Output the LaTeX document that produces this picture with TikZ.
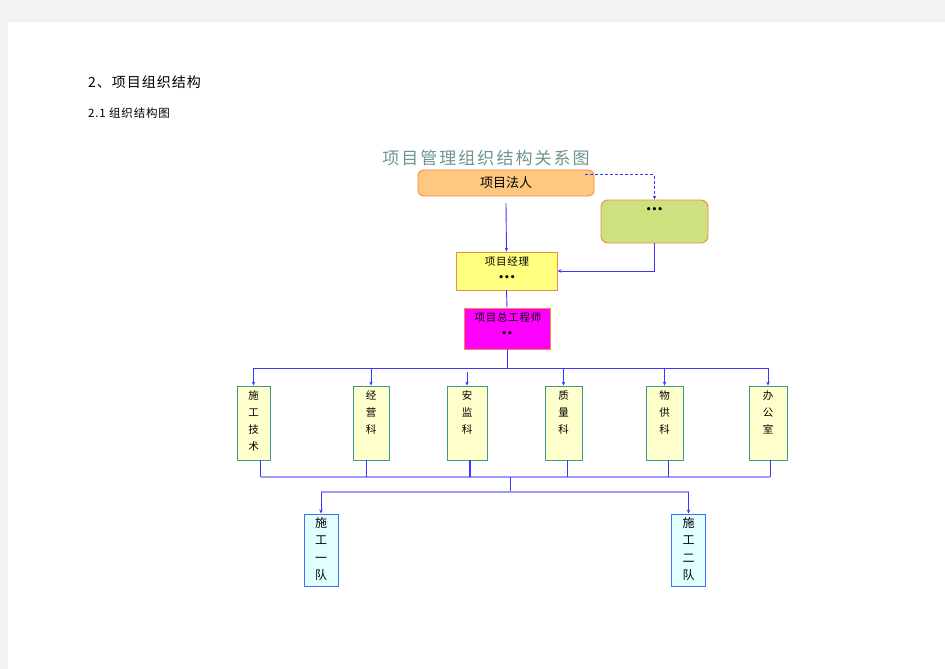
\documentclass[tikz,border=0pt]{standalone}
\usepackage{fontspec}
\setmainfont{Noto Sans CJK SC}
\newfontfamily\cjkls{Noto Sans CJK SC}[LetterSpace=12]
\newfontfamily\cjkmid{Noto Sans CJK SC}[LetterSpace=7]
\newfontfamily\dvdots{DejaVu Sans}
\usetikzlibrary{arrows.meta}
\definecolor{pagegray}{HTML}{F2F2F2}
\definecolor{lineblue}{HTML}{3838FF}
\definecolor{lightblue}{HTML}{9C9CFF}
\definecolor{boxorange}{HTML}{F58A3C}
\definecolor{frfill}{HTML}{FFC880}
\definecolor{greenfill}{HTML}{CDE27E}
\definecolor{yellowfill}{HTML}{FFFF80}
\definecolor{magentafill}{HTML}{FF00FF}
\definecolor{deptfill}{HTML}{FFFFCC}
\definecolor{deptdraw}{HTML}{3A9A8E}
\definecolor{teamfill}{HTML}{E2FFFF}
\definecolor{teamdraw}{HTML}{3F6FFF}
\definecolor{titlecol}{HTML}{6E9494}
\tikzset{
  topbox/.style={draw=boxorange, line width=0.9pt, inner sep=0pt},
  deptbox/.style={draw=deptdraw, fill=deptfill, line width=0.8pt, inner sep=0pt, minimum height=74pt},
  teambox/.style={draw=teamdraw, fill=teamfill, line width=0.9pt, inner sep=0pt, minimum width=34pt, minimum height=72pt},
  conn/.style={draw=lineblue, line width=0.9pt},
  arr/.style={conn, -{Stealth[length=4pt,width=3.5pt]}},
  lbus/.style={draw=lightblue, line width=1.6pt},
  dots/.style={inner sep=0pt, font=\fontsize{9}{10}\selectfont\dvdots\bfseries},
  deptlabel/.style={anchor=north, inner sep=4.5pt, align=center, font=\fontsize{10.5}{17}\selectfont},
  teamlabel/.style={anchor=north, inner sep=3.5pt, align=center, font=\fontsize{12}{17.5}\selectfont},
}
\begin{document}
\begin{tikzpicture}[x=1pt,y=-1pt]
% page
\fill[pagegray] (0,0) rectangle (945,669);
\fill[white] (8,22) rectangle (945,669);
\useasboundingbox (0,0) rectangle (945,669);

% headings
\node[anchor=west, inner sep=0pt, font=\fontsize{14}{16}\selectfont\cjkmid] (h1) at (88,82) {2、项目组织结构};
\node[anchor=west, inner sep=0pt, font=\fontsize{11.5}{14}\selectfont\cjkmid] (h2) at (88,113) {2.1 组织结构图};

% title
\node[inner sep=0pt, text=titlecol, font=\fontsize{17}{20}\selectfont\cjkls] (title) at (486,158) {项目管理组织结构关系图};

% top boxes
\node[topbox, fill=frfill, rounded corners=6pt, minimum width=176pt, minimum height=26pt, font=\fontsize{13}{15}\selectfont] (fr) at (506,183) {项目法人};
\node[topbox, fill=greenfill, rounded corners=7pt, minimum width=107pt, minimum height=43pt] (gr) at (654.5,221.5) {};
\node[dots] (grdots) at (654.5,210.5) {•••};

\node[topbox, fill=yellowfill, minimum width=101pt, minimum height=38pt] (pm) at (506.5,271) {};
\node[inner sep=0pt, font=\fontsize{10.5}{12}\selectfont\cjkmid] (pmt) at (507,262) {项目经理};
\node[dots] (pmd) at (507,278) {•••};

\node[topbox, fill=magentafill, minimum width=86pt, minimum height=41pt] (ce) at (507,328.5) {};
\node[inner sep=0pt, font=\fontsize{10.5}{12}\selectfont\cjkmid] (cet) at (508,318) {项目总工程师};
\node[dots] (ced) at (507,334) {••};

% departments
\node[deptbox, minimum width=33pt, label={[deptlabel]north:施\\工\\技\\术}] (d1) at (253.5,423) {};
\node[deptbox, minimum width=36pt, label={[deptlabel]north:经\\营\\科}] (d2) at (371,423) {};
\node[deptbox, minimum width=40pt, label={[deptlabel]north:安\\监\\科}] (d3) at (467,423) {};
\node[deptbox, minimum width=37pt, label={[deptlabel]north:质\\量\\科}] (d4) at (563.5,423) {};
\node[deptbox, minimum width=37pt, label={[deptlabel]north:物\\供\\科}] (d5) at (664.5,423) {};
\node[deptbox, minimum width=38pt, label={[deptlabel]north:办\\公\\室}] (d6) at (768,423) {};

% teams
\node[teambox, label={[teamlabel]north:施\\工\\一\\队}] (t1) at (321,550) {};
\node[teambox, label={[teamlabel]north:施\\工\\二\\队}] (t2) at (688.5,550) {};

% connectors top
\draw[arr, dashed, dash pattern=on 3pt off 2pt] ([shift={(-9,5)}]fr.north east) -| (gr.north);
\draw[arr] ([yshift=-7pt]fr.south) -- (pm.north);
\draw[arr] (gr.south) |- (pm.east);
\draw[conn] (pm.south) -- (ce.north);

% bus to departments
\coordinate (bus) at (507,368);
\draw[conn] (ce.south) -- (bus);
\draw[conn] (d1.north |- bus) -- (d6.north |- bus);
\draw[arr] (d1.north |- bus) -- (d1.north);
\draw[arr] (d2.north |- bus) -- (d2.north);
\draw[arr] ([yshift=-4pt]d3.north |- bus) -- (d3.north);
\draw[arr] (d4.north |- bus) -- (d4.north);
\draw[arr] (d5.north |- bus) -- (d5.north);
\draw[arr] (d6.north |- bus) -- (d6.north);

% bottom bus
\coordinate (bbus) at (510,477);
\draw[lbus] ([xshift=7pt]d1.south |- bbus) -- ([xshift=2pt]d6.south |- bbus);
\draw[conn] ([xshift=7pt]d1.south) -- ([xshift=7pt]d1.south |- bbus);
\draw[conn] ([xshift=-5pt]d2.south) -- ([xshift=-5pt]d2.south |- bbus);
\draw[conn, line width=1.2pt] ([xshift=3pt]d3.south) -- ([xshift=3pt]d3.south |- bbus);
\draw[conn] ([xshift=3.5pt]d4.south) -- ([xshift=3.5pt]d4.south |- bbus);
\draw[conn] ([xshift=3.5pt]d5.south) -- ([xshift=3.5pt]d5.south |- bbus);
\draw[conn] ([xshift=2pt]d6.south) -- ([xshift=2pt]d6.south |- bbus);

\coordinate (tbus) at (510,492);
\draw[conn] (bbus) -- (tbus);
\draw[lbus] (t1.north |- tbus) -- (t2.north |- tbus);
\draw[arr] (t1.north |- tbus) -- (t1.north);
\draw[arr] (t2.north |- tbus) -- (t2.north);
\end{tikzpicture}
\end{document}
